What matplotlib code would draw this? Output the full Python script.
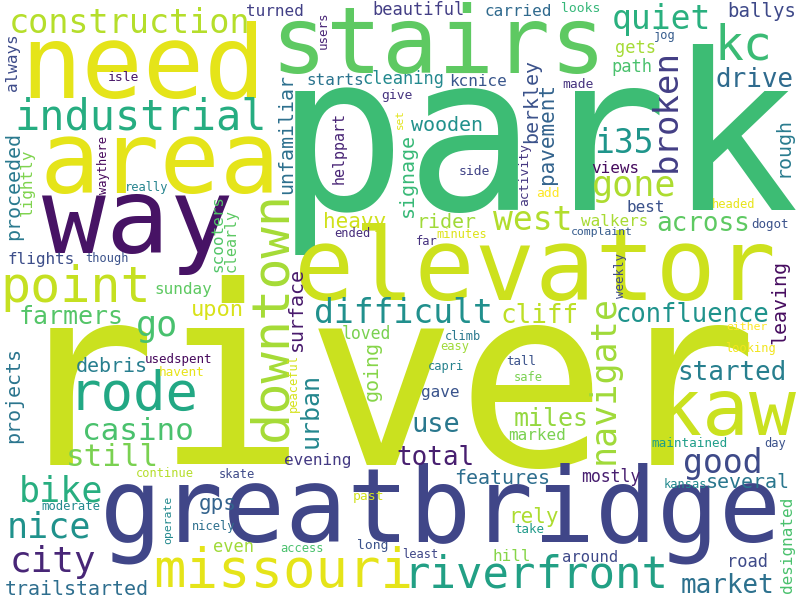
import matplotlib
matplotlib.use("Agg")
import matplotlib.pyplot as plt

# ---- data: the words of the cloud (largest first) ----
words = [
    "park", "river", "greatbridge", "elevator", "stairs", "need", "area", "way",
    "kaw", "missouri", "riverfront", "rode", "downtown", "point", "industrial",
    "construction", "navigate", "difficult", "broken", "quiet", "kc", "i35",
    "gone", "west", "good", "casino", "still", "bike", "nice", "city",
    "trailstarted", "farmers", "go", "confluence", "across", "started", "cliff",
    "miles", "total", "drive", "urban", "use", "market", "gps", "upon", "heavy",
    "rely", "several", "features", "rider", "wooden", "berkley", "pavement",
    "signage", "unfamiliar", "surface", "going", "leaving", "rough", "projects",
    "proceeded", "debris", "designated", "ballys", "loved", "marked", "hill",
    "evening", "mostly", "around", "road", "gave", "even", "walkers", "best",
    "views", "gets", "path", "turned", "beautiful", "carried", "starts",
    "cleaning", "kcnice", "helppart", "activity", "users", "always", "lightly",
    "scooters", "clearly", "sunday", "flights", "operate", "weekly", "peaceful",
    "waythere", "set", "isle", "really", "though", "usedspent", "havent",
    "moderate", "continue", "skate", "nicely", "access", "past", "long", "least",
    "take", "maintained", "day", "kansas", "either", "looking", "headed", "dogot",
    "complaint", "minutes", "far", "climb", "easy", "capri", "tall", "safe",
    "side", "add", "made", "looks", "give", "jog", "ended",
]

# ---- layout: anchor x, anchor y (pixels), font size (px), rotation, colour ----
# horizontal words: anchor = centre of the baseline
# vertical words:   anchor = baseline x, centre y
layout = {
    "park":        (537, 210, 218, 0, "#3dbc74"),
    "river":       (382, 465, 250, 0, "#cae11f"),
    "greatbridge": (441, 541, 103, 0, "#404688"),
    "elevator":    (535, 300, 100, 0, "#cde11d"),
    "stairs":      (438, 73, 93, 0, "#5ec962"),
    "need":        (143, 97, 102, 0, "#e5e419"),
    "area":        (160, 193, 100, 0, "#e5e419"),
    "way":         (138, 253, 106, 0, "#471365"),
    "kaw":         (726, 435, 78, 0, "#cae11f"),
    "missouri":    (283, 587, 54, 0, "#e5e419"),
    "riverfront":  (536, 588, 44, 0, "#22a085"),
    "rode":        (134, 410, 54, 0, "#22a884"),
    "downtown":    (286, 316, 52, 90, "#a5db36"),
    "point":       (76, 302, 50, 0, "#c5e021"),
    "industrial":  (141, 129, 42, 0, "#26ad81"),
    "construction": (130, 33, 33.5, 0, "#b5de2b"),
    "navigate":    (614, 379, 35, 90, "#a0da39"),
    "difficult":   (403, 323, 33, 0, "#21908d"),
    "broken":      (676, 110, 34, 90, "#433e85"),
    "quiet":       (661, 29, 33, 0, "#2ab07f"),
    "kc":          (743, 60, 48, 0, "#3bbb75"),
    "i35":         (624, 153, 33, 0, "#1f958b"),
    "gone":        (634, 196, 35, 0, "#addc30"),
    "west":        (533, 230, 33, 0, "#b2dd2d"),
    "good":        (723, 473, 33, 0, "#3e4a89"),
    "casino":      (138, 440, 31, 0, "#4ac16d"),
    "still":       (112, 466, 31, 0, "#7ad151"),
    "bike":        (61, 502, 35, 0, "#28ae80"),
    "nice":        (49, 537, 35, 0, "#20928c"),
    "city":        (53, 572, 36, 0, "#482677"),
    "trailstarted": (77, 595, 20, 0, "#2e6e8e"),
    "farmers":     (71, 324, 25, 0, "#54c568"),
    "go":          (157, 336, 35, 0, "#48c16e"),
    "confluence":  (692, 322, 25.5, 0, "#1f938c"),
    "across":      (703, 231, 26, 0, "#5ec962"),
    "started":     (732, 380, 26, 0, "#277f8e"),
    "cliff":       (540, 323, 26, 0, "#bddf26"),
    "miles":       (551, 426, 25, 0, "#95d840"),
    "total":       (435, 465, 26, 0, "#481f70"),
    "drive":       (755, 87, 26, 0, "#2f6b8e"),
    "urban":       (318, 411, 25, 90, "#24878e"),
    "use":         (436, 432, 27, 0, "#2a788e"),
    "market":      (728, 593, 26, 0, "#2d718e"),
    "gps":         (218, 510, 21, 0, "#33638d"),
    "upon":        (217, 316, 22, 0, "#d8e219"),
    "heavy":       (355, 228, 21, 0, "#d0e11c"),
    "rely":        (533, 523, 21, 0, "#addc30"),
    "several":     (748, 488, 20, 0, "#2a778e"),
    "features":    (502, 484, 20, 0, "#2e6e8e"),
    "rider":       (446, 228, 20, 0, "#a0da39"),
    "wooden":      (447, 131, 20, 0, "#21918c"),
    "berkley":     (537, 101, 20, 90, "#3b528b"),
    "pavement":    (553, 134, 21, 90, "#33638d"),
    "signage":     (413, 175, 20, 90, "#38b977"),
    "unfamiliar":  (292, 134, 20, 90, "#2d708e"),
    "surface":     (302, 309, 20, 90, "#481a6c"),
    "going":       (378, 371, 20, 90, "#86d549"),
    "leaving":     (785, 302, 20, 90, "#470d60"),
    "rough":       (788, 147, 20, 90, "#297b8e"),
    "projects":    (19, 395, 20, 90, "#2b758e"),
    "proceeded":   (19, 186, 20, 90, "#29798e"),
    "debris":      (112, 372, 20, 0, "#277e8e"),
    "designated":  (792, 545, 16, 90, "#4ac16d"),
    "ballys":      (762, 17, 19, 0, "#3e4989"),
    "loved":       (366, 339, 16.5, 0, "#7ad151"),
    "marked":      (537, 440, 16, 0, "#7ad151"),
    "hill":        (512, 561, 16, 0, "#86d549"),
    "evening":     (318, 465, 16, 0, "#443a83"),
    "mostly":      (611, 482, 16.5, 0, "#481f70"),
    "around":      (590, 562, 15.5, 0, "#3e4989"),
    "road":        (747, 567, 17, 0, "#3e4a89"),
    "gave":        (440, 397, 16, 0, "#3a548c"),
    "even":        (233, 552, 17, 0, "#a0da39"),
    "walkers":     (615, 226, 16, 0, "#a8db34"),
    "best":        (646, 212, 16, 0, "#3b528b"),
    "views":       (615, 173, 16, 0, "#460b5e"),
    "gets":        (636, 53, 17, 0, "#a5db36"),
    "path":        (632, 72, 17, 0, "#4ac16d"),
    "turned":      (275, 16, 16, 0, "#424086"),
    "beautiful":   (418, 15, 17, 0, "#433e85"),
    "carried":     (518, 16, 16, 0, "#306a8e"),
    "starts":      (335, 85, 16, 0, "#2b748e"),
    "cleaning":    (403, 84, 17, 0, "#23898e"),
    "kcnice":      (478, 86, 16, 0, "#39568c"),
    "helppart":    (344, 148, 15, 90, "#482475"),
    "activity":    (528, 175, 13, 90, "#453781"),
    "users":       (327, 30, 12.5, 90, "#482576"),
    "always":      (17, 62, 16, 90, "#3e4c8a"),
    "lightly":     (32, 182, 16, 90, "#7fd34e"),
    "scooters":    (222, 234, 16, 90, "#52c569"),
    "clearly":     (236, 240, 15, 90, "#5cc863"),
    "sunday":      (183, 294, 16, 0, "#5ec962"),
    "flights":     (41, 264, 16, 0, "#3d4e8a"),
    "operate":     (171, 520, 11.5, 90, "#23898e"),
    "weekly":      (624, 275, 12.5, 90, "#3e4989"),
    "peaceful":    (297, 383, 12, 90, "#d5e21a"),
    "waythere":    (107, 165, 12, 90, "#46085c"),
    "set":         (403, 119, 11, 90, "#e2e418"),
    "isle":        (124, 81, 13, 0, "#481668"),
    "really":      (147, 191, 12, 0, "#25848e"),
    "though":      (107, 262, 12, 0, "#3b528b"),
    "usedspent":   (178, 363, 12.5, 0, "#46085c"),
    "havent":      (182, 376, 12.7, 0, "#e7e419"),
    "moderate":    (71, 510, 12.3, 0, "#23898e"),
    "continue":    (165, 477, 12, 0, "#b5de2b"),
    "skate":       (237, 478, 12, 0, "#3e4a89"),
    "nicely":      (214, 530, 12, 0, "#2d708e"),
    "access":      (302, 552, 12, 0, "#4ac16d"),
    "past":        (369, 500, 13, 0, "#d0e11c"),
    "long":        (373, 549, 13, 0, "#3b528b"),
    "least":       (420, 558, 12, 0, "#3f4788"),
    "take":        (529, 533, 12.5, 0, "#1f9a8a"),
    "maintained":  (690, 447, 12.6, 0, "#1f9e89"),
    "day":         (775, 447, 12, 0, "#3b528b"),
    "kansas":      (685, 488, 12, 0, "#23898e"),
    "either":      (747, 330, 11.5, 0, "#fde725"),
    "looking":     (750, 352, 12, 0, "#f1e51d"),
    "headed":      (734, 208, 12, 0, "#e7e419"),
    "dogot":       (770, 228, 12.5, 0, "#3b528b"),
    "complaint":   (602, 235, 11.5, 0, "#365c8d"),
    "minutes":     (462, 238, 12, 0, "#dde318"),
    "far":         (427, 245, 12, 0, "#46327e"),
    "climb":       (463, 340, 12, 0, "#2a788e"),
    "easy":        (455, 350, 12, 0, "#a0da39"),
    "capri":       (446, 370, 12, 0, "#26828e"),
    "tall":        (521, 365, 12.5, 0, "#3b528b"),
    "safe":        (528, 381, 12, 0, "#7ad151"),
    "side":        (474, 175, 13, 0, "#414487"),
    "add":         (548, 197, 13, 0, "#fde725"),
    "made":        (578, 88, 13, 0, "#46337e"),
    "looks":       (581, 12, 13, 0, "#35b779"),
    "give":        (397, 99, 13, 0, "#463480"),
    "jog":         (665, 39, 12, 0, "#365c8d"),
    "ended":       (352, 237, 12, 0, "#472d7b"),
}

W, H, DPI = 800, 600, 100
fig = plt.figure(figsize=(W / DPI, H / DPI), dpi=DPI, facecolor="white")
ax = fig.add_axes([0, 0, 1, 1])
ax.set_xlim(0, W)
ax.set_ylim(H, 0)
ax.axis("off")

for w in words:
    x, y, px, rot, col = layout[w]
    ax.text(x, y, w, fontsize=px * 72.0 / DPI, family="DejaVu Sans Mono",
            color=col, rotation=rot, rotation_mode="anchor",
            ha="center", va="baseline")

fig.savefig("out.png", dpi=DPI, facecolor="white")
